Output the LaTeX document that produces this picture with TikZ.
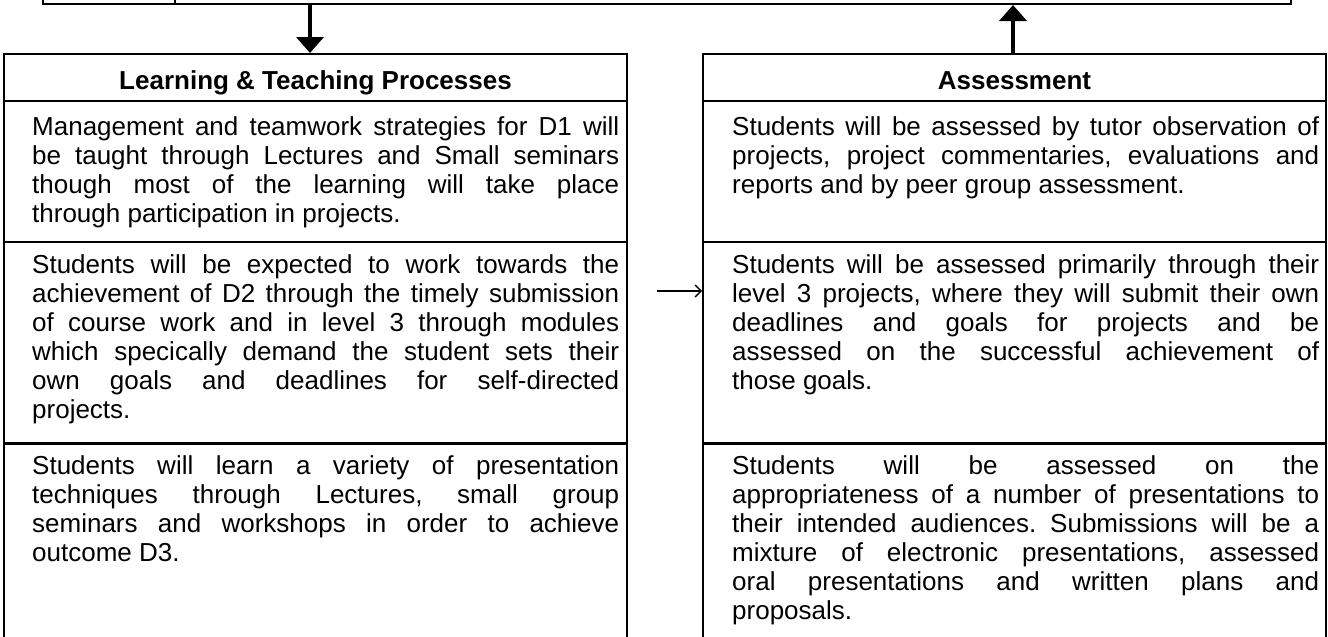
\documentclass[tikz,border=0pt]{standalone}
\usepackage{fontspec}
\setmainfont{Liberation Sans}
\usepackage{tikz}
\usetikzlibrary{arrows.meta}
\tolerance=10000
\hbadness=10000
\frenchspacing

\begin{document}
\begin{tikzpicture}[x=1pt,y=-1pt]
	\useasboundingbox (0,0) rectangle (1328,637);
	\clip (0,0) rectangle (1328,637);
	\tikzstyle{cell}=[draw,line width=2pt,shape=rectangle,minimum width=623pt,inner sep=0pt]
	\tikzstyle{head}=[cell,minimum height=47pt,text height=23pt,text depth=0pt,font=\fontsize{26}{29}\selectfont\bfseries]
	\tikzstyle{txt}=[anchor=base west,inner sep=0pt,text width=587pt,align=justify,font=\fontsize{26}{29}\selectfont]
	\tikzstyle{bigarrow}=[line width=4.5pt,-{Triangle[width=27pt,length=16pt]}]
	\tikzstyle{smallarrow}=[line width=1.3pt,-{Straight Barb[length=6pt,width=12pt]}]
	\node (plan) [cell,minimum width=1248pt,minimum height=40pt,anchor=south west] at (42,5) {};
	\draw[line width=2pt] (175,5) -- (175,-40);
	\node (lhead) [head] at (315.5,77.5) {Learning \& Teaching Processes};
	\node (lrow1) [cell,minimum height=141pt] at (315.5,171.5) {};
	\node (lrow2) [cell,minimum height=201pt] at (315.5,342.5) {};
	\node (lrow3) [cell,minimum height=240pt,anchor=north] at (315.5,443) {};
	\node (ahead) [head] at (1014.5,77.5) {Assessment};
	\node (arow1) [cell,minimum height=141pt] at (1014.5,171.5) {};
	\node (arow2) [cell,minimum height=201pt] at (1014.5,342.5) {};
	\node (arow3) [cell,minimum height=240pt,anchor=north] at (1014.5,443) {};
	\node (ltxt1) [txt] at (32,135) {Management and teamwork strategies for D1 will\linebreak be taught through Lectures and Small seminars\linebreak though most of the learning will take place\linebreak through participation in projects.};
	\node (ltxt2) [txt] at (32,273) {Students will be expected to work towards the\linebreak achievement of D2 through the timely submission\linebreak of course work and in level 3 through modules\linebreak which specically demand the student sets their\linebreak own goals and deadlines for \mbox{self-directed}\linebreak projects.};
	\node (ltxt3) [txt] at (32,474) {Students will learn a variety of presentation\linebreak techniques through Lectures, small group\linebreak seminars and workshops in order to achieve\linebreak outcome D3.};
	\node (atxt1) [txt] at (732,135) {Students will be assessed by tutor observation of\linebreak projects, project commentaries, evaluations and\linebreak reports and by peer group assessment.};
	\node (atxt2) [txt] at (732,273) {Students will be assessed primarily through their\linebreak level 3 projects, where they will submit their own\linebreak deadlines and goals for projects and be\linebreak assessed on the successful achievement of\linebreak those goals.};
	\node (atxt3) [txt] at (732,474) {Students will be assessed on the\linebreak appropriateness of a number of presentations to\linebreak their intended audiences. Submissions will be a\linebreak mixture of electronic presentations, assessed\linebreak oral presentations and written plans and\linebreak proposals.};
	\coordinate (down) at (310,0);
	\coordinate (up) at (1013,0);
	\coordinate (link) at (657,291);
	\draw[bigarrow] (down |- plan.south) -- (down |- lhead.north);
	\draw[bigarrow] (up |- ahead.north) -- (up |- plan.south);
	\draw[smallarrow] (link) -- (link -| arow2.west);
\end{tikzpicture}
\end{document}
